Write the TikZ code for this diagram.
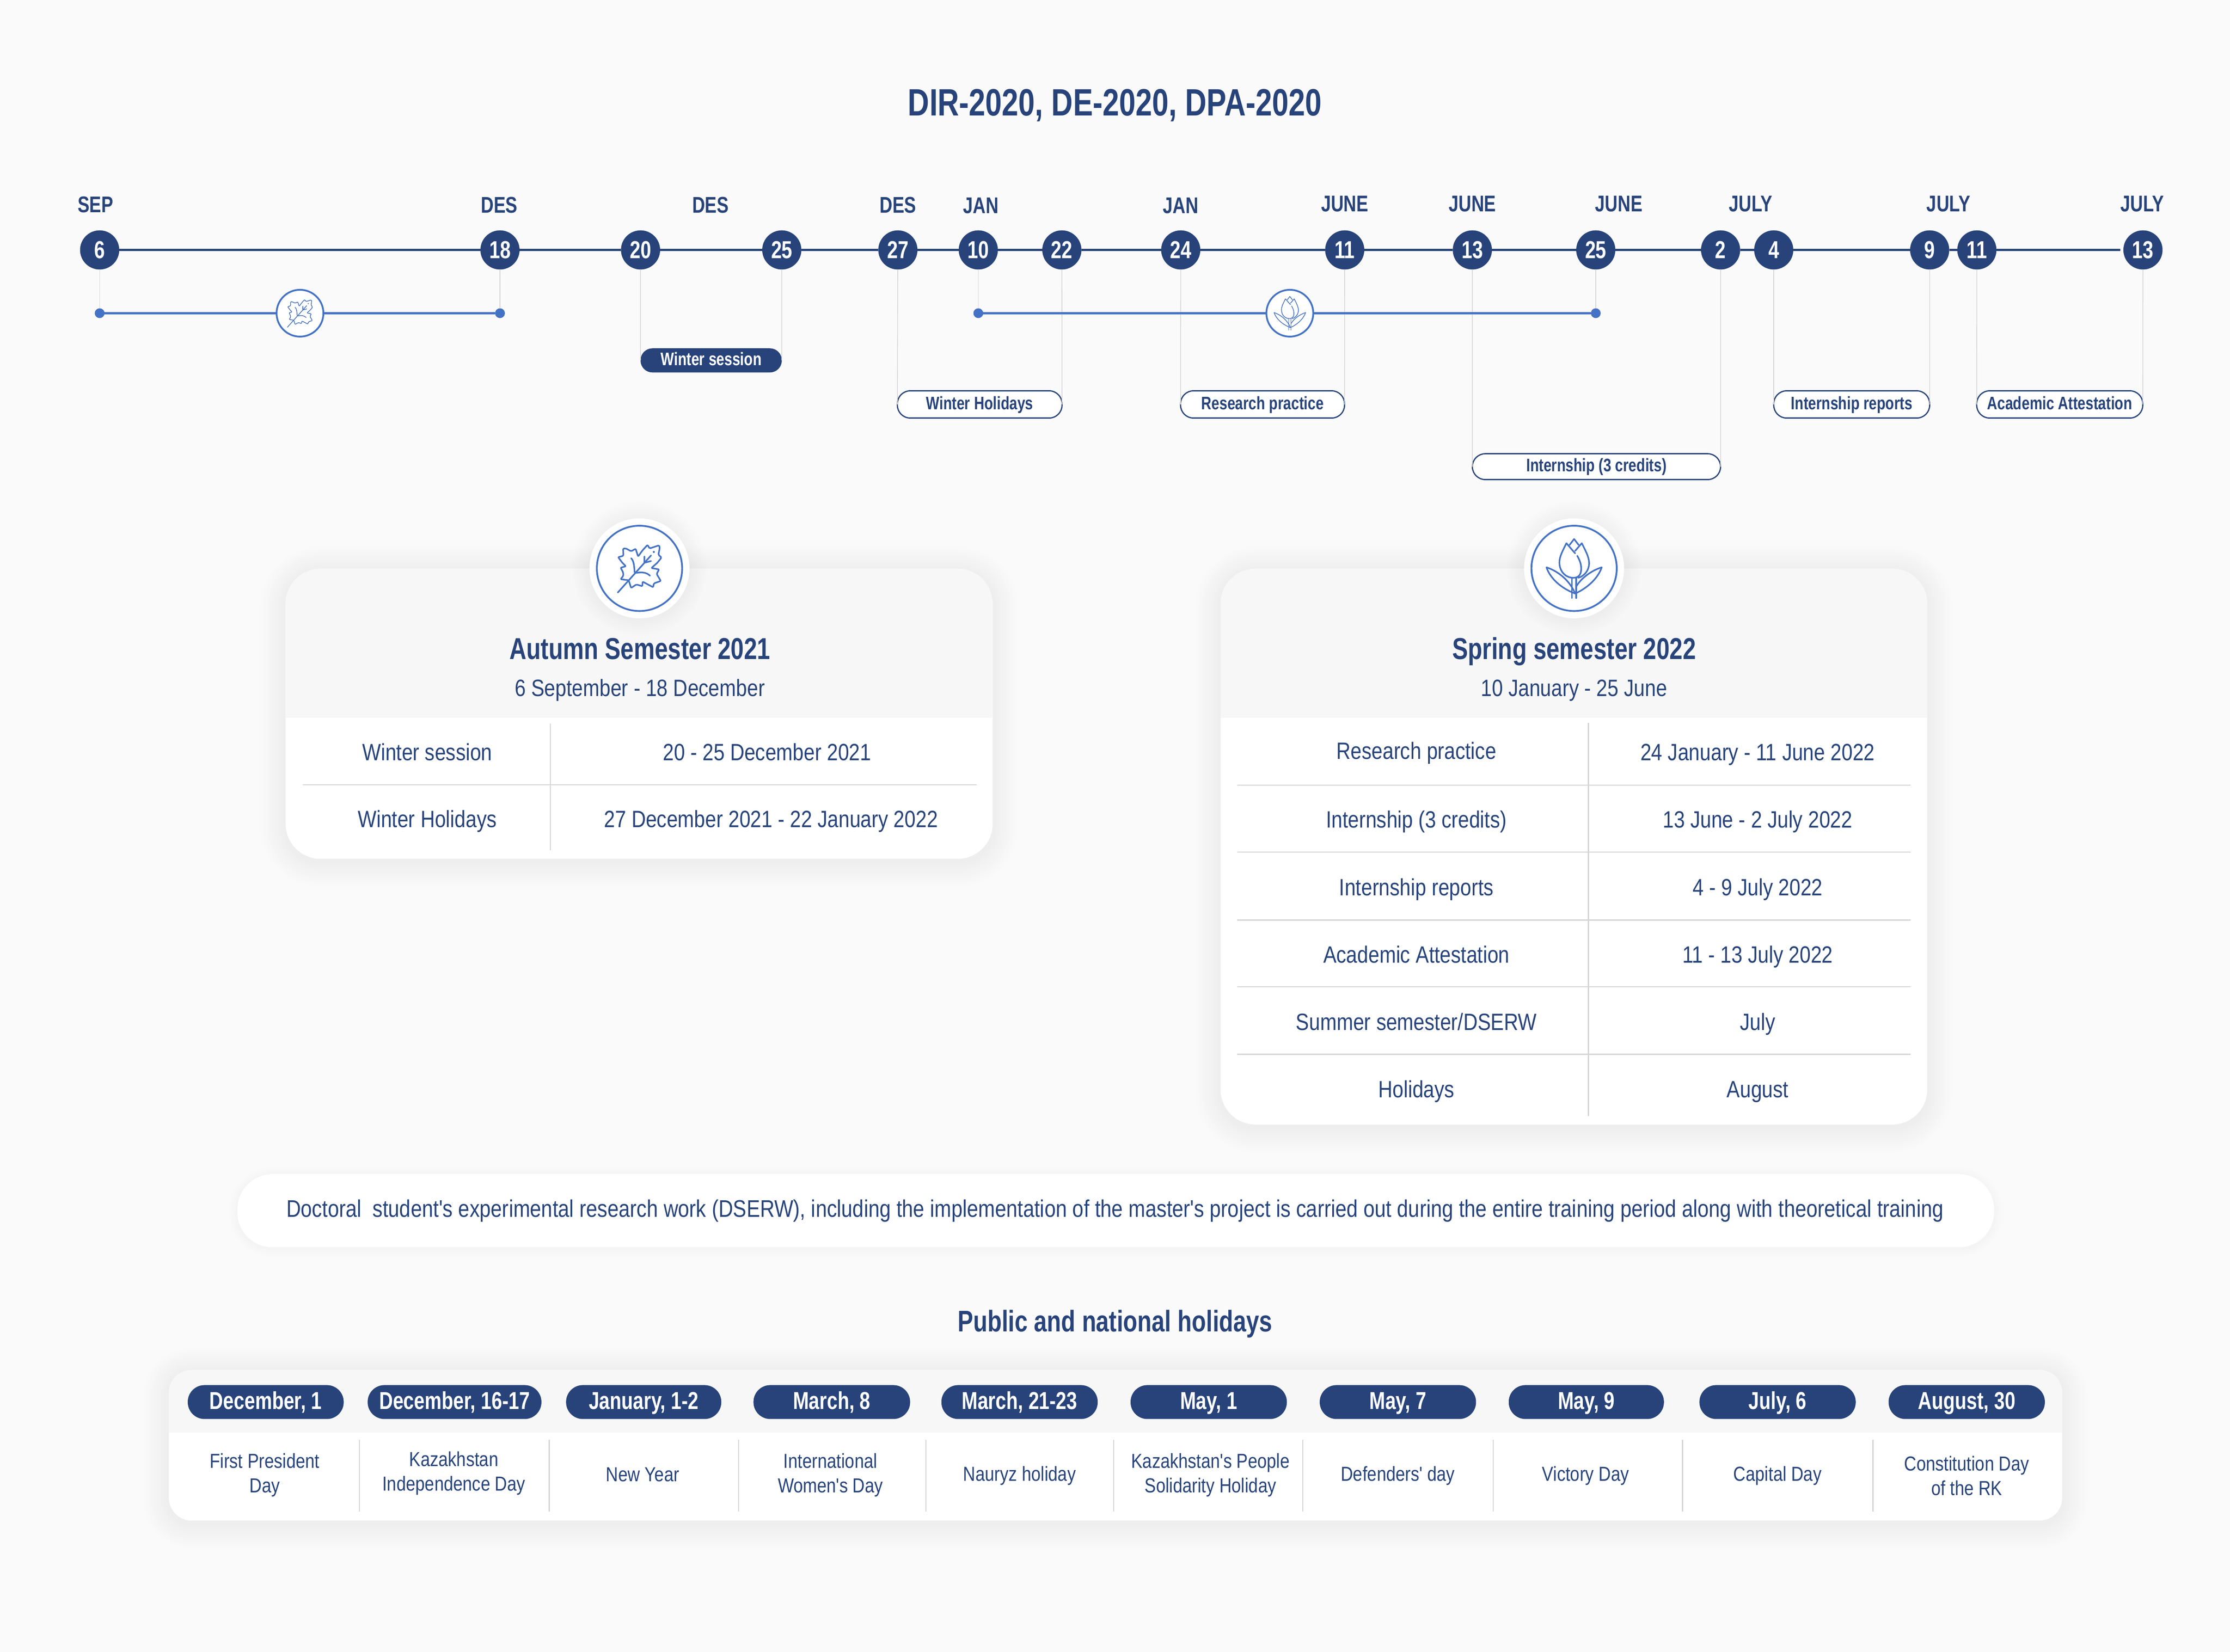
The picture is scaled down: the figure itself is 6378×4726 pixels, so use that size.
\documentclass[tikz,border=0pt]{standalone}
\usepackage{fontspec}
\setmainfont[Ligatures=TeXOff,FakeStretch=0.84,BoldFeatures={FakeStretch=0.78}]{Liberation Sans}
\usepackage{tikz}
\definecolor{navy}{HTML}{27437A}
\definecolor{iconblue}{HTML}{4472C4}
\definecolor{rulegray}{HTML}{D4D4D4}
\definecolor{pagebg}{HTML}{FAFAFA}
\definecolor{headbg}{HTML}{F7F7F7}
\newcommand{\fsize}[1]{\fontsize{#1}{#1}\selectfont}
\newcommand{\softbox}[5]{\foreach \g in {1,...,12}{\fill[black,opacity=0.004,rounded corners=#5+\g*0.6mm] (#1-\g*6,#2-\g*6+8) rectangle (#3+\g*6,#4+\g*6+8);}}
\newcommand{\softdisc}[2]{\foreach \g in {1,...,10}{\fill[black,opacity=0.004] (#1,#2) circle ({14.3mm+\g*0.5mm});}}
\tikzstyle{maintitle} = [text=navy, inner sep=0, text height=21.7pt, text depth=0, font=\bfseries\fsize{31}]
\tikzstyle{sectitle} = [text=navy, inner sep=0, text height=17.2pt, text depth=0, font=\bfseries\fsize{24.6}]
\tikzstyle{month} = [text=navy, inner sep=0, text height=13pt, text depth=0, font=\bfseries\fsize{18.5}]
\tikzstyle{day} = [circle, fill=navy, text=white, inner sep=0, outer sep=0, minimum size=11.2mm, font=\bfseries\fsize{20}]
\tikzstyle{axisline} = [navy, line width=0.55mm]
\tikzstyle{semline} = [iconblue, line width=0.55mm]
\tikzstyle{drop} = [rulegray, line width=0.2mm]
\tikzstyle{rule} = [rulegray, line width=0.3mm]
\tikzstyle{tip} = [circle, fill=iconblue, inner sep=0, outer sep=0, minimum size=2.8mm]
\tikzstyle{minring} = [circle, draw=iconblue, fill=white, line width=0.5mm, inner sep=0, outer sep=0, minimum size=13.4mm]
\tikzstyle{bigdisc} = [circle, fill=white, inner sep=0, outer sep=0, minimum size=28.6mm]
\tikzstyle{bigring} = [circle, draw=iconblue, line width=0.5mm, inner sep=0, outer sep=0, minimum size=24.4mm]
\tikzstyle{solidpill} = [fill=navy, text=white, rounded corners=3.4mm, inner sep=0, outer sep=0, minimum height=6.9mm, text height=8.4pt, text depth=0, font=\bfseries\fsize{14.8}]
\tikzstyle{openpill} = [draw=navy, fill=white, line width=0.35mm, text=navy, rounded corners=3.7mm, inner sep=0, outer sep=0, minimum height=7.8mm, text height=8.1pt, text depth=0, font=\bfseries\fsize{14.8}]
\tikzstyle{holpill} = [fill=navy, text=white, rounded corners=4.8mm, inner sep=0, outer sep=0, minimum height=9.7mm, text height=11.7pt, text depth=0, font=\bfseries\fsize{19.9}]
\tikzstyle{cell} = [text=navy, inner sep=0, text height=13.4pt, text depth=0, font=\fsize{19.2}]
\tikzstyle{holtext} = [text=navy, inner sep=0, align=center, font=\fontsize{16.5}{20}\selectfont]
\tikzset{
	iconpen/.style={draw=iconblue, line cap=round, line join=round},
	leaficon/.pic={
		\draw[iconpen,rounded corners=0.25mm] (-54,31) -- (-46,21) -- (-47,11) -- (-54,-2) -- (-39,-6) -- (-49,-16) -- (-61,-32) -- (-46,-36) -- (-47,-57) -- (-39,-57) -- (-24,-49) -- (-11,-56) -- (-4,-34) -- (9,-52) -- (23,-67) -- (29,-57) -- (56,-66) -- (58,-59) -- (54,-39) -- (63,-31) -- (51,-16) -- (34,-1) -- (56,3) -- (49,16) -- (61,36) -- (41,43) -- (39,54) -- (9,38) -- (8,51) -- (-9,46) -- (-24,56) -- (-31,34) -- cycle;
		\draw[iconpen] (-62,69) -- (33,-37);
		\draw[iconpen] (-24,-29) .. controls (-16,-22) and (-15,-5) .. (-14,11);
		\draw[iconpen] (-9,13) .. controls (5,10) and (20,11) .. (30,21);
		\draw[iconpen] (14,-34) -- (14,-16) -- (33,-21);
		\fill[iconblue] (41,-47) circle (0.3mm);
	},
	tulipicon/.pic={
		\draw[iconpen] (3,-43) -- (-22,-72) .. controls (-30,-55) and (-42,-35) .. (-42,-17) .. controls (-42,8) and (-25,27) .. (-2,27) .. controls (15,27) and (22,15) .. (20,-5) .. controls (19,-17) and (14,-27) .. (9,-36);
		\draw[iconpen] (-13,-67) -- (0,-84) -- (13,-67);
		\draw[iconpen] (3,-50) -- (22,-72) .. controls (32,-52) and (43,-32) .. (43,-15) .. controls (43,5) and (30,22) .. (12,27);
		\draw[iconpen] (-6,27) -- (-6,85);
		\draw[iconpen] (6,27) -- (6,85);
		\draw[iconpen] (-79,-3) .. controls (-40,10) and (-10,40) .. (3,72) .. controls (-35,58) and (-68,30) .. (-79,-3);
		\draw[iconpen] (79,-3) .. controls (50,6) and (20,28) .. (6,52);
		\draw[iconpen] (79,-3) .. controls (68,30) and (35,58) .. (3,72);
	}
}
\begin{document}
\begin{tikzpicture}[x=0.1mm,y=-0.1mm]
	\useasboundingbox (0,0) rectangle (6378,4726);
	\fill[pagebg] (0,0) rectangle (6378,4726);
	\node[maintitle] (title) at (3189,293) {DIR-2020, DE-2020, DPA-2020};

	\node[month] (mSep) at (273,585) {SEP};
	\node[month] (mDesA) at (1428,586) {DES};
	\node[month] (mDesB) at (2032,586) {DES};
	\node[month] (mDesC) at (2568,586) {DES};
	\node[month] (mJanA) at (2805,587) {JAN};
	\node[month] (mJanB) at (3377,587) {JAN};
	\node[month] (mJunA) at (3846,583) {JUNE};
	\node[month] (mJunB) at (4211,583) {JUNE};
	\node[month] (mJunC) at (4630,583) {JUNE};
	\node[month] (mJulA) at (5007,583) {JULY};
	\node[month] (mJulB) at (5573,583) {JULY};
	\node[month] (mJulC) at (6127,583) {JULY};

	\node[day] (dSep6) at (285,715) {6};
	\node[day] (dDes18) at (1430,715) {18};
	\node[day] (dDes20) at (1832,715) {20};
	\node[day] (dDes25) at (2236,715) {25};
	\node[day] (dDes27) at (2568,715) {27};
	\node[day] (dJan10) at (2798,715) {10};
	\node[day] (dJan22) at (3037,715) {22};
	\node[day] (dJan24) at (3377,715) {24};
	\node[day] (dJun11) at (3846,715) {11};
	\node[day] (dJun13) at (4211,715) {13};
	\node[day] (dJun25) at (4564,715) {25};
	\node[day] (dJul2) at (4921,715) {2};
	\node[day] (dJul4) at (5073,715) {4};
	\node[day] (dJul9) at (5519,715) {9};
	\node[day] (dJul11) at (5654,715) {11};
	\node[day] (dJul13) at (6129,715) {13};
	\coordinate (axisEnd) at (6064,715);
	\draw[axisline] (dSep6) -- (dDes18) -- (dDes20) -- (dDes25) -- (dDes27) -- (dJan10) -- (dJan22) -- (dJan24) -- (dJun11) -- (dJun13) -- (dJun25) -- (dJul2) -- (dJul4) -- (dJul9) -- (dJul11) -- (axisEnd);

	\node[tip] (tipSep) at (285,896) {};
	\node[tip] (tipDes) at (1430,896) {};
	\node[tip] (tipJan) at (2798,896) {};
	\node[tip] (tipJun) at (4564,896) {};
	\node[minring] (autumnMark) at (858,896) {};
	\node[minring] (springMark) at (3689,896) {};
	\node[solidpill, minimum width=40.4mm] (pWinter) at (2034,1031) {Winter session};
	\node[openpill, minimum width=47.1mm] (pHoliday) at (2802,1157) {Winter Holidays};
	\node[openpill, minimum width=46.9mm] (pResearch) at (3611,1157) {Research practice};
	\node[openpill, minimum width=71.0mm, minimum height=7.4mm] (pIntern) at (4566,1335) {Internship (3 credits)};
	\node[openpill, minimum width=44.6mm] (pReports) at (5296,1157) {Internship reports};
	\node[openpill, minimum width=47.5mm] (pAttest) at (5891,1157) {Academic Attestation};

	\draw[drop] (dSep6) -- (tipSep);
	\draw[drop] (dDes18) -- (tipDes);
	\draw[drop] (dJan10) -- (tipJan);
	\draw[drop] (dJun25) -- (tipJun);
	\draw[drop] (dDes20) -- (pWinter.west);
	\draw[drop] (dDes25) -- (pWinter.east);
	\draw[drop] (dDes27) -- (pHoliday.west);
	\draw[drop] (dJan22) -- (pHoliday.east);
	\draw[drop] (dJan24) -- (pResearch.west);
	\draw[drop] (dJun11) -- (pResearch.east);
	\draw[drop] (dJun13) -- (pIntern.west);
	\draw[drop] (dJul2) -- (pIntern.east);
	\draw[drop] (dJul4) -- (pReports.west);
	\draw[drop] (dJul9) -- (pReports.east);
	\draw[drop] (dJul11) -- (pAttest.west);
	\draw[drop] (dJul13) -- (pAttest.east);

	\draw[semline] (tipSep) -- (autumnMark) -- (tipDes);
	\draw[semline] (tipJan) -- (springMark) -- (tipJun);
	\pic[scale=0.58,line width=0.2mm] at (858,896) {leaficon};
	\pic[scale=0.57,line width=0.2mm] at (3689,896) {tulipicon};

	\softbox{817}{1627}{2839}{2457}{10mm}
	\fill[white,rounded corners=10mm] (817,1627) rectangle (2839,2457);
	\begin{scope}
		\clip[rounded corners=10mm] (817,1627) rectangle (2839,2457);
		\fill[headbg] (817,1627) rectangle (2839,2054);
	\end{scope}
	\softdisc{1829}{1626}
	\node[bigdisc] (autumnDisc) at (1829,1626) {};
	\node[bigring] (autumnRing) at (1829,1626) {};
	\pic[line width=0.45mm] at (1829,1626) {leaficon};
	\node[sectitle] (autumnTitle) at (1830,1856) {Autumn Semester 2021};
	\node[cell] (autumnDates) at (1830,1968) {6 September - 18 December};
	\draw[rule] (866,2245) -- (2794,2245);
	\draw[rule] (1574,2070) -- (1574,2432);
	\node[cell] (aLeftA) at (1222,2152) {Winter session};
	\node[cell] (aRightA) at (2194,2152) {20 - 25 December 2021};
	\node[cell] (aLeftB) at (1222,2343) {Winter Holidays};
	\node[cell] (aRightB) at (2205,2343) {27 December 2021 - 22 January 2022};

	\softbox{3491}{1627}{5512}{3217}{10mm}
	\fill[white,rounded corners=10mm] (3491,1627) rectangle (5512,3217);
	\begin{scope}
		\clip[rounded corners=10mm] (3491,1627) rectangle (5512,3217);
		\fill[headbg] (3491,1627) rectangle (5512,2054);
	\end{scope}
	\softdisc{4502}{1626}
	\node[bigdisc] (springDisc) at (4502,1626) {};
	\node[bigring] (springRing) at (4502,1626) {};
	\pic[line width=0.45mm] at (4502,1626) {tulipicon};
	\node[sectitle] (springTitle) at (4502,1856) {Spring semester 2022};
	\node[cell] (springDates) at (4502,1968) {10 January - 25 June};
	\draw[rule] (3538,2246) -- (5465,2246);
	\draw[rule] (3538,2438) -- (5465,2438);
	\draw[rule] (3538,2632) -- (5465,2632);
	\draw[rule] (3538,2823) -- (5465,2823);
	\draw[rule] (3538,3016) -- (5465,3016);
	\draw[rule] (4543,2068) -- (4543,3193);
	\node[cell] (sLeftA) at (4051,2148) {Research practice};
	\node[cell] (sRightA) at (5027,2152) {24 January - 11 June 2022};
	\node[cell] (sLeftB) at (4051,2345) {Internship (3 credits)};
	\node[cell] (sRightB) at (5027,2345) {13 June - 2 July 2022};
	\node[cell] (sLeftC) at (4051,2538) {Internship reports};
	\node[cell] (sRightC) at (5027,2538) {4 - 9 July 2022};
	\node[cell] (sLeftD) at (4051,2731) {Academic Attestation};
	\node[cell] (sRightD) at (5027,2731) {11 - 13 July 2022};
	\node[cell] (sLeftE) at (4051,2924) {Summer semester/DSERW};
	\node[cell] (sRightE) at (5027,2924) {July};
	\node[cell] (sLeftF) at (4051,3116) {Holidays};
	\node[cell] (sRightF) at (5027,3116) {August};

	\foreach \g in {1,...,6}{\fill[black,opacity=0.004,rounded corners=10mm+\g*0.4mm] (679-\g*4,3359-\g*4+4) rectangle (5703+\g*4,3568+\g*4+4);}
	\fill[white,rounded corners=10mm] (679,3359) rectangle (5703,3568);
	\node[cell, font=\fsize{19.55}] (noteText) at (3189,3458) {Doctoral\ \ student's experimental research work (DSERW), including the implementation of the master's project is carried out during the entire training period along with theoretical training};

	\node[sectitle, font=\bfseries\fsize{24.3}] (holidayTitle) at (3189,3779) {Public and national holidays};

	\softbox{483}{3919}{5898}{4350}{6.5mm}
	\fill[white,rounded corners=6.5mm] (483,3919) rectangle (5898,4350);
	\begin{scope}
		\clip[rounded corners=6.5mm] (483,3919) rectangle (5898,4350);
		\fill[headbg] (483,3919) rectangle (5898,4098);
	\end{scope}
	\node[holpill, minimum width=44.6mm] (hA) at (760,4011) {December, 1};
	\node[holpill, minimum width=49.7mm] (hB) at (1300,4011) {December, 16-17};
	\node[holpill, minimum width=44.4mm] (hC) at (1841,4011) {January, 1-2};
	\node[holpill, minimum width=44.8mm] (hD) at (2379,4011) {March, 8};
	\node[holpill, minimum width=44.7mm] (hE) at (2916,4011) {March, 21-23};
	\node[holpill, minimum width=44.7mm] (hF) at (3457,4011) {May, 1};
	\node[holpill, minimum width=44.7mm] (hG) at (3998,4011) {May, 7};
	\node[holpill, minimum width=44.4mm] (hH) at (4537,4011) {May, 9};
	\node[holpill, minimum width=44.7mm] (hI) at (5084,4011) {July, 6};
	\node[holpill, minimum width=44.7mm] (hJ) at (5625,4011) {August, 30};
	\draw[rule] (1028,4119) -- (1028,4324);
	\draw[rule] (1571,4119) -- (1571,4324);
	\draw[rule] (2112,4119) -- (2112,4324);
	\draw[rule] (2648,4119) -- (2648,4324);
	\draw[rule] (3185,4119) -- (3185,4324);
	\draw[rule] (3726,4119) -- (3726,4324);
	\draw[rule] (4271,4119) -- (4271,4324);
	\draw[rule] (4812,4119) -- (4812,4324);
	\draw[rule] (5357,4119) -- (5357,4324);
	\node[holtext] (tA) at (757,4220) {First President\\Day};
	\node[holtext] (tB) at (1298,4215) {Kazakhstan\\Independence Day};
	\node[holtext] (tC) at (1838,4219) {New Year};
	\node[holtext] (tD) at (2375,4220) {International\\Women's Day};
	\node[holtext] (tE) at (2916,4222) {Nauryz holiday};
	\node[holtext] (tF) at (3462,4220) {Kazakhstan's People\\Solidarity Holiday};
	\node[holtext] (tG) at (3998,4222) {Defenders' day};
	\node[holtext] (tH) at (4535,4222) {Victory Day};
	\node[holtext] (tI) at (5084,4222) {Capital Day};
	\node[holtext] (tJ) at (5625,4222) {Constitution Day\\of the RK};
\end{tikzpicture}
\end{document}
